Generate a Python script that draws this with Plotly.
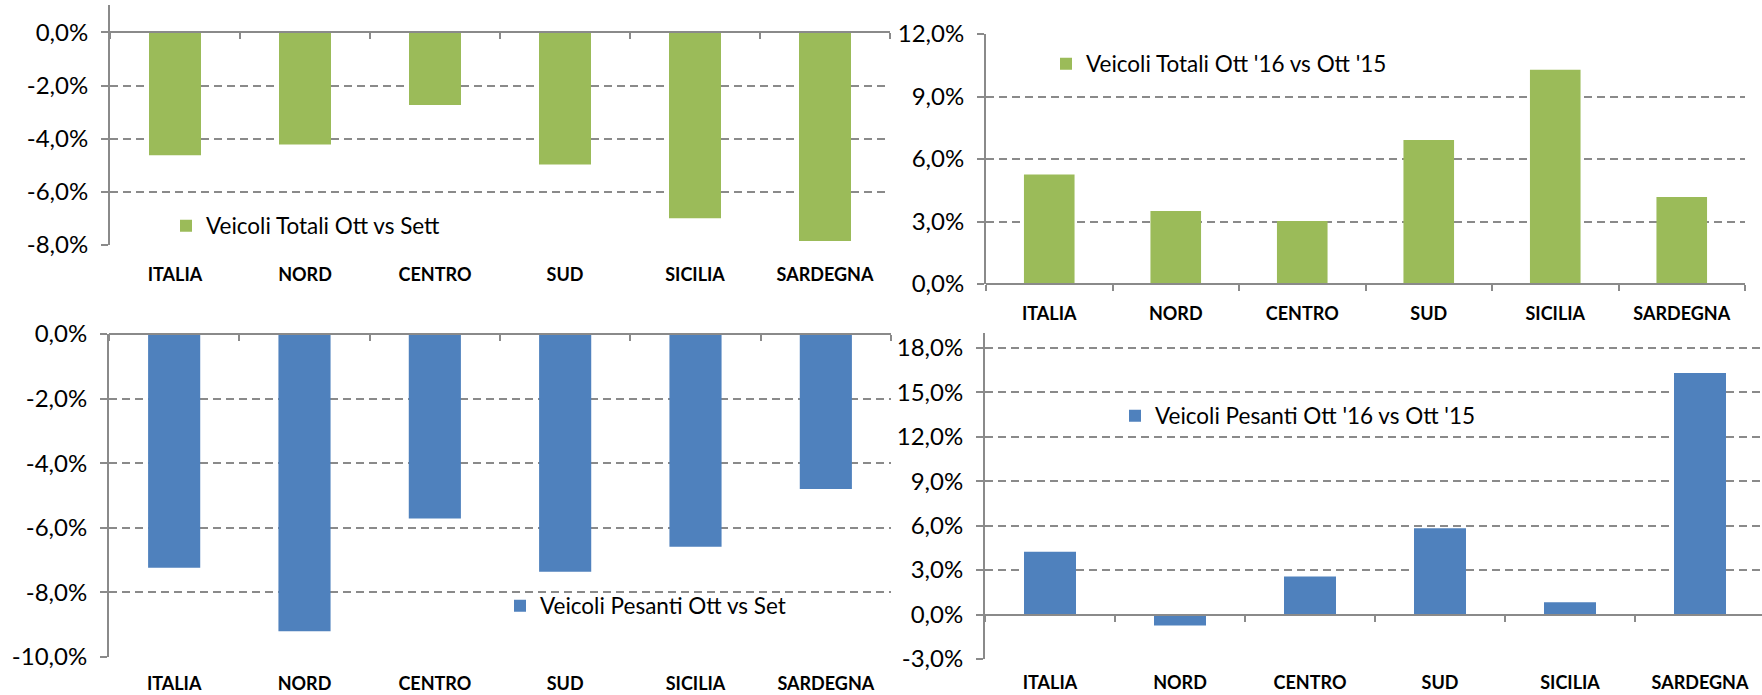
import plotly.graph_objects as go

W, H = 1762, 695

categories = ["ITALIA", "NORD", "CENTRO", "SUD", "SICILIA", "SARDEGNA"]

tot_mese = [-4.62, -4.22, -2.73, -4.97, -6.99, -7.85]
tot_anno = [5.26, 3.50, 3.02, 6.91, 10.29, 4.18]
pes_mese = [-7.24, -9.20, -5.71, -7.36, -6.59, -4.80]
pes_anno = [4.23, -0.74, 2.57, 5.83, 0.83, 16.30]

names = [
    "Veicoli Totali Ott vs Sett",
    "Veicoli Totali Ott '16 vs Ott '15",
    "Veicoli Pesanti Ott vs Set",
    "Veicoli Pesanti Ott '16 vs Ott '15",
]

ticks_tl = [0, -2, -4, -6, -8]
ticktext_tl = ["0,0%", "-2,0%", "-4,0%", "-6,0%", "-8,0%"]
ticks_tr = [0, 3, 6, 9, 12]
ticktext_tr = ["0,0%", "3,0%", "6,0%", "9,0%", "12,0%"]
ticks_bl = [0, -2, -4, -6, -8, -10]
ticktext_bl = ["0,0%", "-2,0%", "-4,0%", "-6,0%", "-8,0%", "-10,0%"]
ticks_br = [-3, 0, 3, 6, 9, 12, 15, 18]
ticktext_br = ["-3,0%", "0,0%", "3,0%", "6,0%", "9,0%", "12,0%", "15,0%", "18,0%"]

GREEN = "#9BBB59"
BLUE = "#4F81BD"
GRID = "#8A8A8A"
AXIS = "#8A8A8A"
FONT = "Lato"


def px_x(v):
    return v / W


def px_y(v):
    return 1 - v / H


# panel geometry (pixels): plot box, value range, category label centre line
panels = [
    dict(xl=110, xr=890, yt=5, yb=245, yr=[-8, 1.03], xmax=5.5, lab=275),
    dict(xl=986, xr=1745, yt=34, yb=284, yr=[0, 12], xmax=5.5, lab=314),
    dict(xl=109, xr=891, yt=334, yb=657, yr=[-10, 0], xmax=5.5, lab=684),
    dict(xl=985, xr=1762, yt=333, yb=659, yr=[-3, 19], xmax=-0.5 + 777 / 130, lab=684),
]
yticks = [(ticks_tl, ticktext_tl), (ticks_tr, ticktext_tr),
          (ticks_bl, ticktext_bl), (ticks_br, ticktext_br)]
series = [tot_mese, tot_anno, pes_mese, pes_anno]
colors = [GREEN, GREEN, BLUE, BLUE]
legend_pos = [(166, 226), (1046, 64), (500, 606), (1115, 416)]

fig = go.Figure()
layout = dict(
    width=W, height=H,
    margin=dict(l=0, r=0, t=0, b=0, autoexpand=False),
    paper_bgcolor="white", plot_bgcolor="white",
    bargap=0.6,
    font=dict(family=FONT, color="black"),
)

for i in range(4):
    k = i + 1
    sfx = "" if k == 1 else str(k)
    p = panels[i]
    fig.add_trace(go.Bar(
        x=categories, y=series[i], name=names[i],
        marker=dict(color=colors[i], line=dict(width=0)),
        xaxis="x" + sfx, yaxis="y" + sfx,
        legend="legend" + sfx, showlegend=True,
        hoverinfo="skip",
    ))
    xd = [px_x(p["xl"]), min(1.0, px_x(p["xr"]))]
    yd = [px_y(p["yb"]), px_y(p["yt"])]
    y0, y1 = p["yr"]
    zero_frac = yd[0] + (0 - y0) / (y1 - y0) * (yd[1] - yd[0])
    zero_px = (1 - zero_frac) * H
    standoff = int(round(max(0, p["lab"] - zero_px - 17)))
    # category axis drawn on the zero line, with boundary ticks; labels pushed down
    layout["xaxis" + sfx] = dict(
        domain=xd, anchor="free", position=zero_frac, type="category",
        categoryarray=categories, range=[-0.5, p["xmax"]],
        tickson="boundaries", ticks="outside", ticklen=6,
        tickcolor=AXIS, tickwidth=2,
        showline=True, linecolor=AXIS, linewidth=2,
        showgrid=False, zeroline=False,
        tickfont=dict(family=FONT, size=18, color="black", weight="bold"),
        ticklabelstandoff=standoff, automargin=False,
    )
    tv, tt = yticks[i]
    layout["yaxis" + sfx] = dict(
        domain=yd, anchor="x" + sfx, range=p["yr"],
        tickvals=tv, ticktext=tt,
        showline=True, linecolor=AXIS, linewidth=2,
        ticks="outside", ticklen=7, tickcolor=AXIS, tickwidth=2,
        showgrid=True, gridcolor=GRID, gridwidth=2, griddash="8px,5px",
        zeroline=False, automargin=False,
        tickfont=dict(family=FONT, size=24, color="black"),
        ticklabelstandoff=8,
    )
    lx, ly = legend_pos[i]
    layout["legend" + sfx] = dict(
        x=px_x(lx), y=px_y(ly), xanchor="left", yanchor="middle",
        bgcolor="rgba(0,0,0,0)", borderwidth=0,
        font=dict(family=FONT, size=22.5, color="black"),
        itemwidth=30, itemclick=False, itemdoubleclick=False,
    )

fig.update_layout(**layout)
fig.write_html(
    "out.html",
    config={"displayModeBar": False},
    post_script="document.body.style.margin='0';",
)
